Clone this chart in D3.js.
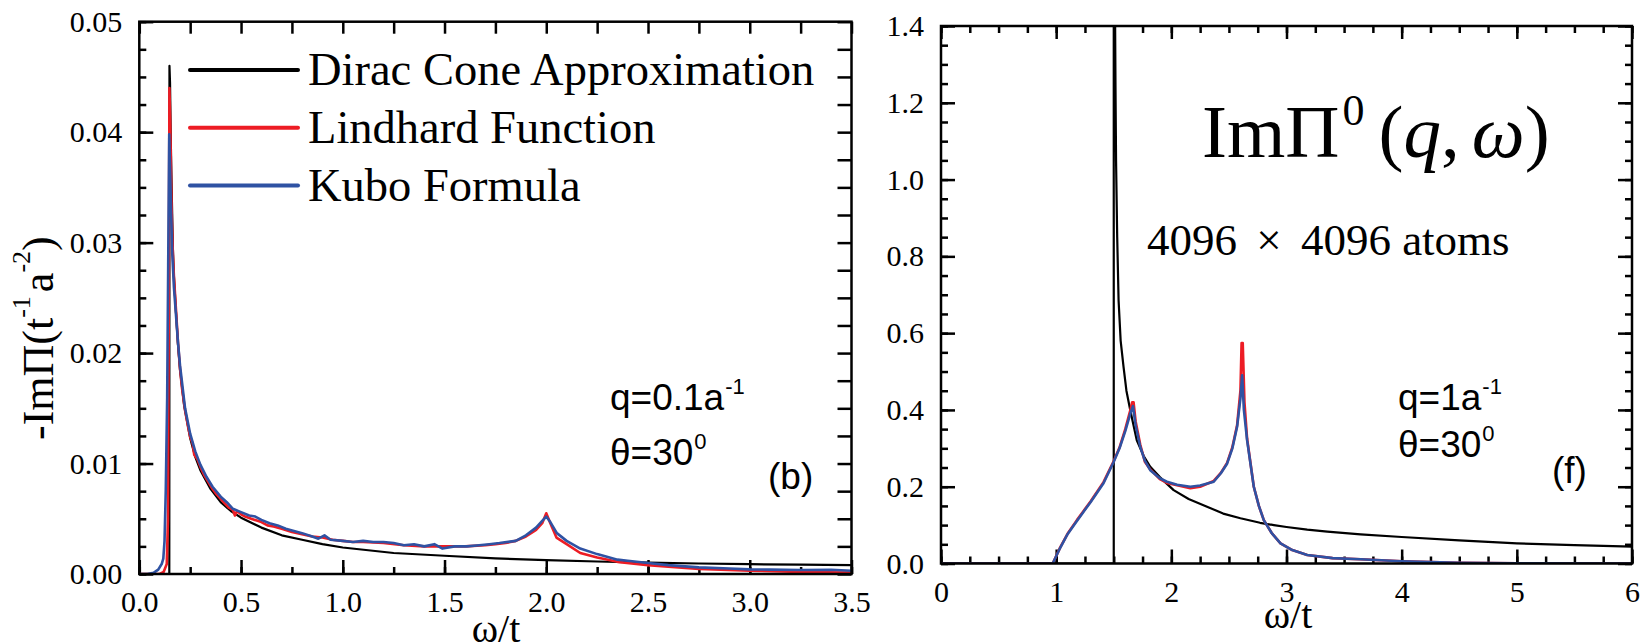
<!DOCTYPE html>
<html>
<head>
<meta charset="utf-8">
<script src="https://cdn.jsdelivr.net/npm/d3@7"></script>
<style>
  body { margin: 0; background: #fff; }
  svg { display: block; }
  text { font-family: "Liberation Serif", "Times New Roman", serif; fill: #000; }
  text.sans { font-family: "Liberation Sans", Arial, sans-serif; }
  .axis line { stroke: #000; stroke-width: 2.5; }
</style>
</head>
<body>
<svg id="chart" width="1641" height="644"></svg>
<script>
/* global d3 */

const SERIF = '"Liberation Serif", "Times New Roman", serif';

// panel (b): q = 0.1/a
const B_X_TICKS = [0, 0.5, 1.0, 1.5, 2.0, 2.5, 3.0, 3.5];
const B_Y_TICKS = [0, 0.01, 0.02, 0.03, 0.04, 0.05];

const B_DIRAC = [
  [0, 0], [0.1475, 0], [0.1482, 0.046], [0.151, 0.0445], [0.155, 0.039], [0.16, 0.034],
  [0.165, 0.0295], [0.17, 0.027], [0.18, 0.0238], [0.19, 0.0208], [0.2, 0.0185],
  [0.22, 0.0153], [0.25, 0.0123], [0.275, 0.0106], [0.3, 0.0094], [0.35, 0.0077],
  [0.4, 0.0065], [0.45, 0.0057], [0.5, 0.0051], [0.6, 0.0042], [0.7, 0.0035],
  [0.8, 0.0031], [0.9, 0.0027], [1.0, 0.0024], [1.25, 0.0019], [1.5, 0.00165],
  [1.75, 0.00142], [2.0, 0.00125], [2.25, 0.00113], [2.5, 0.00103], [2.75, 0.00095],
  [3.0, 0.00089], [3.25, 0.00084], [3.5, 0.0008],
];

const B_LINDHARD = [
  [0, 0], [0.1, 0], [0.12, 0.0002], [0.135, 0.0009], [0.141, 0.005], [0.145, 0.025],
  [0.148, 0.044], [0.152, 0.041], [0.156, 0.036], [0.16, 0.032], [0.165, 0.029],
  [0.17, 0.027], [0.18, 0.024], [0.19, 0.021], [0.2, 0.0186], [0.21, 0.0168],
  [0.225, 0.0148], [0.24, 0.0133], [0.25, 0.0124], [0.262, 0.0118], [0.27, 0.0108],
  [0.285, 0.0104], [0.3, 0.0097], [0.32, 0.0089], [0.34, 0.0083], [0.36, 0.0077],
  [0.38, 0.0072], [0.4, 0.0068], [0.42, 0.0064], [0.44, 0.006], [0.46, 0.0058],
  [0.47, 0.0053], [0.48, 0.0057], [0.5, 0.0054], [0.52, 0.0052], [0.55, 0.005],
  [0.6, 0.0047], [0.63, 0.0044], [0.66, 0.0043], [0.7, 0.0041], [0.75, 0.0038],
  [0.8, 0.0036], [0.85, 0.0034], [0.9, 0.0033], [0.95, 0.0031], [1.0, 0.003],
  [1.05, 0.0029], [1.1, 0.0029], [1.2, 0.0028], [1.3, 0.0026], [1.4, 0.0025],
  [1.5, 0.0025], [1.6, 0.0025], [1.7, 0.0026], [1.75, 0.0027], [1.8, 0.0028],
  [1.85, 0.003], [1.9, 0.0034], [1.95, 0.004], [1.98, 0.0046], [2.0, 0.0055],
  [2.02, 0.0046], [2.05, 0.0033], [2.1, 0.0027], [2.167, 0.0019], [2.25, 0.0015],
  [2.35, 0.0011], [2.5, 0.0008], [2.6, 0.00065], [2.75, 0.00045], [3.0, 0.0003],
  [3.25, 0.00018], [3.5, 0.00012],
];

const B_KUBO = [
  [0, 0], [0.04, 0], [0.07, 0.0001], [0.093, 0.0004], [0.11, 0.0009], [0.118, 0.0014],
  [0.124, 0.003], [0.13, 0.0075], [0.137, 0.016], [0.142, 0.028], [0.147, 0.0398],
  [0.151, 0.037], [0.156, 0.033], [0.162, 0.029], [0.17, 0.026], [0.18, 0.0235],
  [0.19, 0.021], [0.2, 0.0189], [0.225, 0.015], [0.25, 0.0127], [0.275, 0.0111],
  [0.3, 0.0099], [0.33, 0.0088], [0.36, 0.0079], [0.4, 0.007], [0.43, 0.0065],
  [0.46, 0.0059], [0.5, 0.0056], [0.54, 0.0053], [0.57, 0.0052], [0.6, 0.0049],
  [0.64, 0.0046], [0.68, 0.0044], [0.72, 0.0041], [0.76, 0.0039], [0.8, 0.0037],
  [0.85, 0.0034], [0.88, 0.0032], [0.91, 0.0035], [0.94, 0.0031], [1.0, 0.003],
  [1.05, 0.0029], [1.1, 0.003], [1.15, 0.0029], [1.2, 0.0029], [1.25, 0.0028],
  [1.3, 0.0026], [1.35, 0.0027], [1.4, 0.0025], [1.45, 0.0027], [1.49, 0.0023],
  [1.55, 0.0025], [1.61, 0.0025], [1.67, 0.0026], [1.72, 0.0027], [1.77, 0.0028],
  [1.85, 0.003], [1.9, 0.0035], [1.95, 0.0042], [1.98, 0.0048], [2.0, 0.0052],
  [2.02, 0.0047], [2.052, 0.0037], [2.1, 0.003], [2.167, 0.0023], [2.25, 0.0018],
  [2.35, 0.0013], [2.4, 0.0012], [2.5, 0.001], [2.6, 0.0008], [2.75, 0.0006],
  [2.9, 0.0005], [3.0, 0.00042], [3.1, 0.0004], [3.25, 0.00036], [3.4, 0.00038],
  [3.5, 0.0003],
];

// panel (f): q = 1/a
const F_X_TICKS = [0, 1, 2, 3, 4, 5, 6];
const F_Y_TICKS = [0, 0.2, 0.4, 0.6, 0.8, 1.0, 1.2, 1.4];

const F_DIRAC = [
  [0, 0], [1.5, 0], [1.5, 1.6], [1.51, 1.5], [1.515, 1.25], [1.52, 1.05], [1.53, 0.85],
  [1.542, 0.685], [1.56, 0.58], [1.585, 0.512], [1.61, 0.45], [1.643, 0.4], [1.7, 0.321],
  [1.76, 0.28], [1.817, 0.252], [1.9, 0.225], [2.02, 0.191], [2.15, 0.168], [2.31, 0.148],
  [2.45, 0.13], [2.6, 0.118], [2.77, 0.106], [2.89, 0.1], [3.0, 0.095], [3.18, 0.088],
  [3.354, 0.083], [3.643, 0.076], [4.0, 0.069], [4.5, 0.06], [5.0, 0.0525], [5.5, 0.048],
  [6.0, 0.0437],
];

const F_LINDHARD = [
  [0, 0], [0.97, 0], [1.035, 0.042], [1.1, 0.078], [1.18, 0.113], [1.238, 0.137],
  [1.3, 0.162], [1.411, 0.212], [1.5, 0.267], [1.55, 0.302], [1.6, 0.35], [1.643, 0.398],
  [1.66, 0.42], [1.672, 0.42], [1.69, 0.37], [1.73, 0.31], [1.77, 0.265], [1.817, 0.245],
  [1.9, 0.22], [1.962, 0.21], [2.05, 0.204], [2.165, 0.196], [2.25, 0.2], [2.368, 0.215],
  [2.43, 0.236], [2.484, 0.262], [2.53, 0.303], [2.571, 0.36], [2.6, 0.45], [2.61, 0.574],
  [2.62, 0.574], [2.635, 0.42], [2.658, 0.325], [2.716, 0.2], [2.76, 0.15], [2.803, 0.113],
  [2.87, 0.08], [2.948, 0.0525], [3.05, 0.035], [3.18, 0.022], [3.4, 0.014], [3.643, 0.011],
  [4.0, 0.006], [4.5, 0.002], [5.0, 0.0005], [6.0, 0],
];

const F_KUBO = [
  [0, 0], [0.97, 0], [1.035, 0.041], [1.1, 0.077], [1.18, 0.111], [1.238, 0.135],
  [1.3, 0.16], [1.411, 0.209], [1.5, 0.265], [1.55, 0.3], [1.6, 0.345], [1.643, 0.39],
  [1.667, 0.41], [1.69, 0.36], [1.73, 0.304], [1.77, 0.268], [1.817, 0.243], [1.9, 0.222],
  [1.962, 0.213], [2.05, 0.205], [2.165, 0.2], [2.25, 0.203], [2.368, 0.213], [2.43, 0.235],
  [2.484, 0.26], [2.53, 0.3], [2.571, 0.356], [2.6, 0.43], [2.615, 0.49], [2.63, 0.4],
  [2.658, 0.321], [2.716, 0.2], [2.76, 0.15], [2.803, 0.113], [2.87, 0.08], [2.948, 0.0525],
  [3.05, 0.035], [3.18, 0.022], [3.4, 0.014], [3.643, 0.011], [4.0, 0.006], [4.5, 0.002],
  [5.0, 0.0005], [6.0, 0],
];

const SERIES_NAMES = ["Dirac Cone Approximation", "Lindhard Function", "Kubo Formula"];
const COLORS = ["#000000", "#ed1c24", "#2f52a3"];
const WIDTHS = [2.2, 2.6, 2.6];

const svg = d3.select("#chart");

const panels = [
  {
    id: "b",
    box: { left: 139.3, right: 851.5, top: 21.7, bottom: 574 },
    xDomain: [0, 3.5], yDomain: [0, 0.05],
    xTicks: B_X_TICKS, yTicks: B_Y_TICKS,
    xMinorStep: 0.25, yMinorStep: 0.0025,
    xFmt: d3.format(".1f"), yFmt: d3.format(".2f"),
    series: [B_DIRAC, B_LINDHARD, B_KUBO],
    flatMirror: true,
    xLabel: { x: 496, y: 642 },
  },
  {
    id: "f",
    box: { left: 941, right: 1632, top: 26, bottom: 563.5 },
    xDomain: [0, 6], yDomain: [0, 1.4],
    xTicks: F_X_TICKS, yTicks: F_Y_TICKS,
    xMinorStep: 0.25, yMinorStep: 0.05,
    xFmt: d3.format("d"), yFmt: d3.format(".1f"),
    series: [F_DIRAC, F_LINDHARD, F_KUBO],
    flatMirror: false,
    xLabel: { x: 1288, y: 628 },
  },
];

function minorValues(domain, step) {
  return d3.range(domain[0], domain[1] + step / 2, step);
}

function addAxis(g, axis, transform) {
  const a = g.append("g").attr("class", "axis").attr("transform", transform).call(axis);
  a.select(".domain").remove();
  a.attr("font-family", SERIF).attr("font-size", 30);
  a.selectAll("text").attr("fill", "#000").style("font-family", SERIF).style("font-size", "30px");
  return a;
}

function drawPanel(p) {
  const { left, right, top, bottom } = p.box;
  const x = d3.scaleLinear().domain(p.xDomain).range([left, right]);
  const y = d3.scaleLinear().domain(p.yDomain).range([bottom, top]);
  const g = svg.append("g").attr("class", `panel-${p.id}`);

  g.append("clipPath")
    .attr("id", `clip-${p.id}`)
    .append("rect")
    .attr("x", left)
    .attr("y", top)
    .attr("width", right - left)
    .attr("height", bottom - top);

  const xMinor = minorValues(p.xDomain, p.xMinorStep);
  const yMinor = minorValues(p.yDomain, p.yMinorStep);

  // bottom and left: labelled major ticks + short minor ticks, all pointing inward
  addAxis(g, d3.axisBottom(x).tickValues(p.xTicks).tickSizeInner(-14).tickSizeOuter(0)
    .tickPadding(17).tickFormat(p.xFmt), `translate(0,${bottom})`);
  addAxis(g, d3.axisBottom(x).tickValues(xMinor).tickSizeInner(-7).tickSizeOuter(0)
    .tickFormat(""), `translate(0,${bottom})`);
  addAxis(g, d3.axisLeft(y).tickValues(p.yTicks).tickSizeInner(-14).tickSizeOuter(0)
    .tickPadding(17).tickFormat(p.yFmt), `translate(${left},0)`);
  addAxis(g, d3.axisLeft(y).tickValues(yMinor).tickSizeInner(-7).tickSizeOuter(0)
    .tickFormat(""), `translate(${left},0)`);

  // top and right: unlabelled
  if (p.flatMirror) {
    addAxis(g, d3.axisTop(x).tickValues(xMinor).tickSizeInner(-12).tickSizeOuter(0)
      .tickFormat(""), `translate(0,${top})`);
    addAxis(g, d3.axisRight(y).tickValues(yMinor).tickSizeInner(-14).tickSizeOuter(0)
      .tickFormat(""), `translate(${right},0)`);
  } else {
    addAxis(g, d3.axisTop(x).tickValues(p.xTicks).tickSizeInner(-13).tickSizeOuter(0)
      .tickFormat(""), `translate(0,${top})`);
    addAxis(g, d3.axisTop(x).tickValues(xMinor).tickSizeInner(-7).tickSizeOuter(0)
      .tickFormat(""), `translate(0,${top})`);
    addAxis(g, d3.axisRight(y).tickValues(p.yTicks).tickSizeInner(-14).tickSizeOuter(0)
      .tickFormat(""), `translate(${right},0)`);
    addAxis(g, d3.axisRight(y).tickValues(yMinor).tickSizeInner(-7).tickSizeOuter(0)
      .tickFormat(""), `translate(${right},0)`);
  }

  const line = d3.line().x((d) => x(d[0])).y((d) => y(d[1]));

  g.append("g")
    .attr("clip-path", `url(#clip-${p.id})`)
    .selectAll("path")
    .data(p.series)
    .join("path")
    .attr("d", line)
    .attr("fill", "none")
    .attr("stroke", (d, i) => COLORS[i])
    .attr("stroke-width", (d, i) => WIDTHS[i])
    .attr("stroke-linejoin", "round");

  g.append("rect")
    .attr("x", left)
    .attr("y", top)
    .attr("width", right - left)
    .attr("height", bottom - top)
    .attr("fill", "none")
    .attr("stroke", "#000")
    .attr("stroke-width", 2.5);

  g.append("text")
    .attr("x", p.xLabel.x)
    .attr("y", p.xLabel.y)
    .attr("text-anchor", "middle")
    .style("font-family", SERIF)
    .attr("font-size", 40)
    .text("ω/t");
}

panels.forEach(drawPanel);

// y label of panel (b)
const yLabel = svg.append("text")
  .attr("transform", "translate(53,440) rotate(-90)")
  .style("font-family", SERIF)
  .attr("font-size", 44);
yLabel.append("tspan").text("-ImΠ(t");
yLabel.append("tspan").attr("font-size", 26).attr("dy", -23).text("-1");
yLabel.append("tspan").attr("dy", 23).attr("dx", 4).text("a");
yLabel.append("tspan").attr("font-size", 26).attr("dy", -23).text("-2");
yLabel.append("tspan").attr("dy", 23).text(")");

// legend of panel (b)
const legend = svg.append("g").attr("class", "legend");
SERIES_NAMES.forEach((name, i) => {
  const row = legend.append("g").attr("transform", `translate(0,${i * 57.8})`);
  row.append("line")
    .attr("x1", 190).attr("x2", 298).attr("y1", 70).attr("y2", 70)
    .attr("stroke", COLORS[i]).attr("stroke-width", 4).attr("stroke-linecap", "round");
  row.append("text").attr("x", 308).attr("y", 85).attr("font-size", 46.5).text(name);
});

function addParams(xPos, yQ, yT, qText) {
  const q = svg.append("text").attr("class", "sans").attr("x", xPos).attr("y", yQ).attr("font-size", 37);
  q.append("tspan").text(qText);
  q.append("tspan").attr("font-size", 22).attr("dy", -16).attr("dx", 1).text("-1");
  const t = svg.append("text").attr("class", "sans").attr("x", xPos).attr("y", yT).attr("font-size", 37);
  t.append("tspan").text("θ=30");
  t.append("tspan").attr("font-size", 22).attr("dy", -16).attr("dx", 1).text("0");
}

addParams(610, 410, 465, "q=0.1a");
svg.append("text").attr("class", "sans").attr("x", 768).attr("y", 489).attr("font-size", 37).text("(b)");

addParams(1398, 410, 457, "q=1a");
svg.append("text").attr("class", "sans").attr("x", 1552).attr("y", 483).attr("font-size", 37).text("(f)");

// formula and lattice size in panel (f)
const title = svg.append("text").attr("x", 1202).attr("y", 157).attr("font-size", 75);
title.append("tspan").text("ImΠ");
title.append("tspan").attr("font-size", 44).attr("dy", -32).attr("dx", 3).text("0");
title.append("tspan").attr("dy", 32).attr("dx", 14).text("(");
title.append("tspan").attr("font-style", "italic").text("q");
title.append("tspan").text(",");
title.append("tspan").attr("dx", 12).attr("font-style", "italic").text("ω");
title.append("tspan").text(")");

const atoms = svg.append("text").attr("x", 1147).attr("y", 255).attr("font-size", 45);
atoms.append("tspan").text("4096");
atoms.append("tspan").attr("dx", 8).text(" × ");
atoms.append("tspan").attr("dx", 8).text("4096 atoms");
</script>
</body>
</html>
